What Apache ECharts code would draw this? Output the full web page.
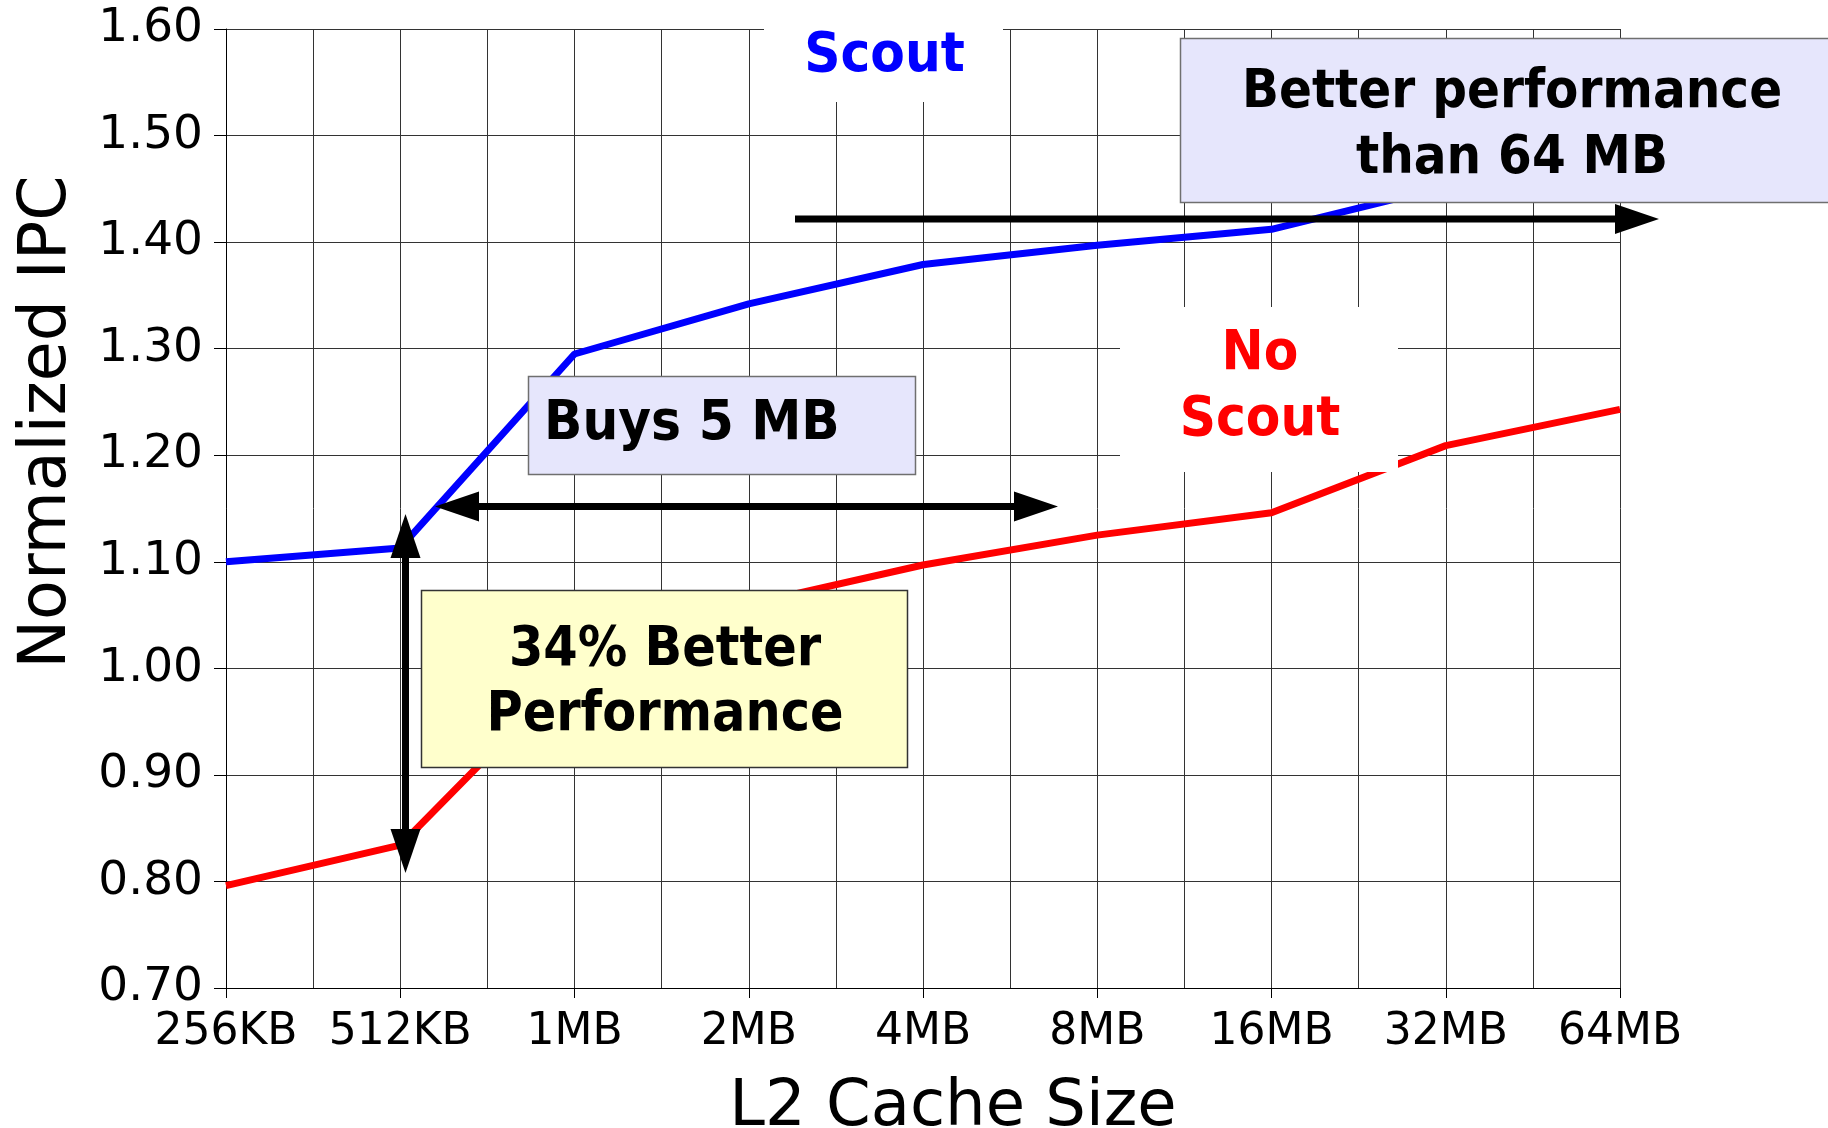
<!DOCTYPE html>
<html>
<head>
<meta charset="utf-8">
<script src="https://cdn.jsdelivr.net/npm/echarts@6/dist/echarts.min.js"></script>
<style>
  html, body { margin: 0; padding: 0; background: #fff; }
  #chart { width: 1828px; height: 1128px; }
</style>
</head>
<body>
<div id="chart"></div>
<script>
// ---- data ----
const categories = ['256KB', '512KB', '1MB', '2MB', '4MB', '8MB', '16MB', '32MB', '64MB'];
const scoutValues = [1.100, 1.113, 1.295, 1.342, 1.379, 1.397, 1.412, 1.452, 1.480];
const noScoutValues = [0.796, 0.834, 1.000, 1.060, 1.097, 1.125, 1.146, 1.209, 1.243];
const yMin = 0.70, yMax = 1.60, yStep = 0.10;

const AX_FONT = '"DejaVu Sans", sans-serif';
const BOLD_FONT = '"DejaVu Sans Condensed", "DejaVu Sans", sans-serif';

const chart = echarts.init(document.getElementById('chart'), null, { renderer: 'canvas' });

function toPairs(vals) { return vals.map((v, i) => [i, v]); }

function hArrowHead(tipX, y, dir) { // dir: +1 right, -1 left
  const L = 44, W = 15;
  return [[tipX, y], [tipX - dir * L, y - W], [tipX - dir * L, y + W]];
}
function vArrowHead(x, tipY, dir) { // dir: -1 up, +1 down
  const L = 44, W = 15;
  return [[x, tipY], [x - W, tipY - dir * L], [x + W, tipY - dir * L]];
}

const Z = 20;
const graphics = [
  // white masks behind labels
  { type: 'rect', z: Z, shape: { x: 764, y: 0, width: 239, height: 102 }, style: { fill: '#fff' } },
  { type: 'rect', z: Z, shape: { x: 1120, y: 307, width: 278, height: 165 }, style: { fill: '#fff' } },
  // boxes
  { type: 'rect', z: Z, shape: { x: 528.5, y: 376.5, width: 387, height: 98 }, style: { fill: '#e6e6fc', stroke: '#6f6f6f', lineWidth: 1.5 } },
  { type: 'rect', z: Z, shape: { x: 421.5, y: 590.5, width: 486, height: 177 }, style: { fill: '#ffffcc', stroke: '#333', lineWidth: 1.5 } },
  { type: 'rect', z: Z, shape: { x: 1180.5, y: 38.5, width: 700, height: 164 }, style: { fill: '#e6e6fc', stroke: '#6f6f6f', lineWidth: 1.5 } },
  // labels
  { type: 'text', z: Z + 1, x: 884.5, y: 56, style: { text: 'Scout', fill: '#0000ff', font: 'bold 56px ' + BOLD_FONT, textAlign: 'center', textVerticalAlign: 'middle' } },
  { type: 'text', z: Z + 1, x: 1260, y: 387, style: { text: 'No\nScout', fill: '#ff0000', font: 'bold 56px ' + BOLD_FONT, textAlign: 'center', textVerticalAlign: 'middle', lineHeight: 66 } },
  { type: 'text', z: Z + 1, x: 544, y: 424, style: { text: 'Buys 5 MB', fill: '#000', font: 'bold 56px ' + BOLD_FONT, textAlign: 'left', textVerticalAlign: 'middle' } },
  { type: 'text', z: Z + 1, x: 665, y: 683, style: { text: '34% Better\nPerformance', fill: '#000', font: 'bold 55px ' + BOLD_FONT, textAlign: 'center', textVerticalAlign: 'middle', lineHeight: 65 } },
  { type: 'text', z: Z + 1, x: 1512, y: 126, style: { text: 'Better performance\nthan 64 MB', fill: '#000', font: 'bold 54px ' + BOLD_FONT, textAlign: 'center', textVerticalAlign: 'middle', lineHeight: 66 } },
  // arrows
  { type: 'line', z: Z + 2, shape: { x1: 470, y1: 506.5, x2: 1020, y2: 506.5 }, style: { stroke: '#000', lineWidth: 7 } },
  { type: 'polygon', z: Z + 2, shape: { points: hArrowHead(435, 506.5, -1) }, style: { fill: '#000' } },
  { type: 'polygon', z: Z + 2, shape: { points: hArrowHead(1058, 506.5, 1) }, style: { fill: '#000' } },
  { type: 'line', z: Z + 2, shape: { x1: 795, y1: 219, x2: 1620, y2: 219 }, style: { stroke: '#000', lineWidth: 7 } },
  { type: 'polygon', z: Z + 2, shape: { points: hArrowHead(1659, 219, 1) }, style: { fill: '#000' } },
  { type: 'line', z: Z + 2, shape: { x1: 405.5, y1: 550, x2: 405.5, y2: 838 }, style: { stroke: '#000', lineWidth: 7 } },
  { type: 'polygon', z: Z + 2, shape: { points: vArrowHead(405.5, 514, -1) }, style: { fill: '#000' } },
  { type: 'polygon', z: Z + 2, shape: { points: vArrowHead(405.5, 873, 1) }, style: { fill: '#000' } },
  // axis titles
  { type: 'text', z: Z, x: 48, y: 422, rotation: Math.PI / 2, style: { text: 'Normalized IPC', fill: '#000', font: '65px ' + AX_FONT, textAlign: 'center', textVerticalAlign: 'middle' } },
  { type: 'text', z: Z, x: 953, y: 1108, style: { text: 'L2 Cache Size', fill: '#000', font: '64px ' + AX_FONT, textAlign: 'center', textVerticalAlign: 'middle' } }
];

const option = {
  animation: false,
  backgroundColor: '#fff',
  grid: { left: 226, top: 29, width: 1394, height: 959, containLabel: false },
  xAxis: {
    type: 'value', min: 0, max: categories.length - 1, interval: 1,
    axisLine: { show: true, onZero: false, lineStyle: { color: '#000', width: 1 } },
    axisTick: { show: true, length: 10, lineStyle: { color: '#000', width: 1 } },
    axisLabel: {
      formatter: v => categories[v] || '', color: '#000',
      fontFamily: AX_FONT, fontSize: 44, margin: 23,
      showMinLabel: true, showMaxLabel: true
    },
    splitLine: { show: true, lineStyle: { color: '#333', width: 1 } },
    minorTick: { show: false, splitNumber: 2 },
    minorSplitLine: { show: true, lineStyle: { color: '#333', width: 1 } }
  },
  yAxis: {
    type: 'value', min: yMin, max: yMax, interval: yStep,
    axisLine: { show: true, lineStyle: { color: '#000', width: 1 } },
    axisTick: { show: true, length: 12, lineStyle: { color: '#000', width: 1 } },
    axisLabel: {
      formatter: v => v.toFixed(2), color: '#000',
      fontFamily: AX_FONT, fontSize: 47, margin: 23, padding: [10, 0, 0, 0]
    },
    splitLine: { show: true, lineStyle: { color: '#333', width: 1 } }
  },
  series: [
    {
      name: 'Scout', type: 'line', data: toPairs(scoutValues),
      showSymbol: false, symbol: 'none',
      lineStyle: { color: '#0000ff', width: 7 }, itemStyle: { color: '#0000ff' }
    },
    {
      name: 'No Scout', type: 'line', data: toPairs(noScoutValues),
      showSymbol: false, symbol: 'none',
      lineStyle: { color: '#ff0000', width: 7 }, itemStyle: { color: '#ff0000' }
    }
  ],
  graphic: graphics
};

chart.setOption(option);
</script>
</body>
</html>
